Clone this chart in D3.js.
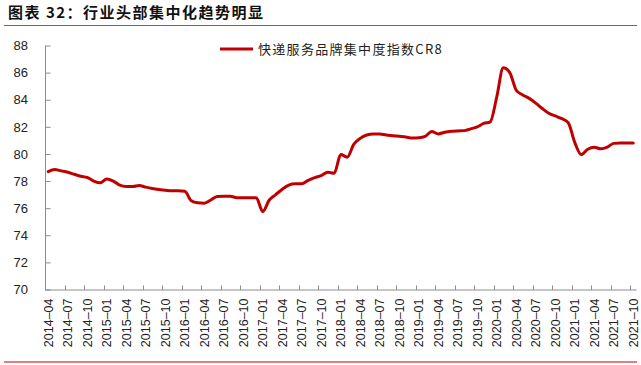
<!DOCTYPE html>
<html>
<head>
<meta charset="utf-8">
<script src="https://cdn.jsdelivr.net/npm/d3@7"></script>
<style>
  body { margin: 0; background: #fff; }
  svg { display: block; }
</style>
</head>
<body>
<div id="chart"></div>
<script>
// monthly CR8 index, 2014-04 .. 2021-10
var months = [];
(function () {
    var y = 2014, m = 4;
    for (var i = 0; i < 91; i++) {
        months.push(y + "-" + (m < 10 ? "0" + m : m));
        m++;
        if (m > 12) { m = 1; y++; }
    }
})();

var cr8 = [78.7, 78.85, 78.75, 78.65, 78.5, 78.35, 78.26, 78.0, 77.87, 78.15,
           78.0, 77.7, 77.6, 77.6, 77.67, 77.55, 77.45, 77.38, 77.33, 77.28,
           77.28, 77.25, 76.55, 76.4, 76.37, 76.6, 76.86, 76.88, 76.88, 76.77,
           76.76, 76.76, 76.76, 75.75, 76.6, 77.0, 77.4, 77.7, 77.8, 77.8,
           78.05, 78.25, 78.4, 78.65, 78.58, 79.95, 79.76, 80.7, 81.15, 81.4,
           81.48, 81.48, 81.4, 81.35, 81.3, 81.25, 81.18, 81.2, 81.3, 81.65,
           81.48, 81.6, 81.67, 81.7, 81.72, 81.85, 82.0, 82.25, 82.37, 84.2,
           86.35, 86.0, 84.7, 84.35, 84.1, 83.75, 83.35, 83.0, 82.8, 82.6,
           82.3, 80.85, 79.95, 80.35, 80.5, 80.38, 80.5, 80.78, 80.8, 80.8,
           80.8];

var yTicks = [70, 72, 74, 76, 78, 80, 82, 84, 86, 88];
var xTickLabels = months.filter(function (d, i) { return i % 3 === 0; });

var title = "图表 32：行业头部集中化趋势明显";
var seriesName = "快递服务品牌集中度指数CR8";

var width = 641, height = 365;
var plot = {left: 45, right: 636.5, top: 45.5, bottom: 289.5};

var svg = d3.select("#chart").append("svg")
    .attr("width", width)
    .attr("height", height);

// header
svg.append("text")
    .attr("x", 8)
    .attr("y", 18)
    .style("font-family", "'Noto Sans CJK SC', sans-serif")
    .style("font-size", "15px")
    .style("font-weight", "bold")
    .style("letter-spacing", "1.5px")
    .style("fill", "#111")
    .text(title);

svg.append("line")
    .attr("x1", 4).attr("x2", 637)
    .attr("y1", 25.5).attr("y2", 25.5)
    .style("stroke", "#d04040")
    .style("stroke-width", 1.2);

svg.append("line")
    .attr("x1", 4).attr("x2", 637)
    .attr("y1", 362).attr("y2", 362)
    .style("stroke", "#c00000")
    .style("stroke-width", 1.2);

var x = d3.scaleBand().domain(months).range([plot.left, plot.right]).padding(0);
var y = d3.scaleLinear().domain([70, 88]).range([plot.bottom, plot.top]);

// y axis
var yAxis = d3.axisRight(y).tickValues(yTicks).tickSize(5).tickFormat(d3.format("d"));
var gy = svg.append("g")
    .attr("transform", "translate(" + plot.left + ",0)")
    .call(yAxis);
gy.select(".domain").attr("d", "M0.5," + plot.top + "V" + plot.bottom).style("stroke", "#8c8c8c");
gy.selectAll(".tick line").style("stroke", "#8c8c8c").attr("transform", "translate(0.5,0)");
gy.selectAll(".tick text")
    .attr("x", -17)
    .attr("text-anchor", "end")
    .style("font-family", "'Liberation Sans', Arial, sans-serif")
    .style("font-size", "13px")
    .style("fill", "#222");

// x axis
var gx = svg.append("g").attr("transform", "translate(0," + plot.bottom + ")");
gx.append("line")
    .attr("x1", plot.left).attr("x2", plot.right)
    .attr("y1", 0.5).attr("y2", 0.5)
    .style("stroke", "#8c8c8c");
gx.selectAll(".xtick")
    .data(xTickLabels)
    .enter().append("line")
    .attr("class", "xtick")
    .attr("x1", function (d) { return Math.round(x(d)) + 0.5; })
    .attr("x2", function (d) { return Math.round(x(d)) + 0.5; })
    .attr("y1", 0.5).attr("y2", -4)
    .style("stroke", "#8c8c8c");
gx.selectAll(".xlabel")
    .data(xTickLabels)
    .enter().append("text")
    .attr("class", "xlabel")
    .attr("transform", function (d) {
        return "translate(" + (x(d) + x.bandwidth() / 2) + ",9) rotate(-90)";
    })
    .attr("dy", "0.35em")
    .attr("text-anchor", "end")
    .style("font-family", "'Liberation Sans', Arial, sans-serif")
    .style("font-size", "12.5px")
    .style("fill", "#222")
    .text(function (d) { return d.replace("-", "–"); });

// line
var line = d3.line()
    .x(function (d, i) { return x(months[i]) + x.bandwidth() / 2; })
    .y(function (d) { return y(d); })
    .curve(d3.curveMonotoneX);

svg.append("path")
    .datum(cr8)
    .attr("d", line)
    .style("fill", "none")
    .style("stroke", "#c00000")
    .style("stroke-width", 3)
    .style("stroke-linejoin", "round")
    .style("stroke-linecap", "round");

// legend
svg.append("line")
    .attr("x1", 220).attr("x2", 253)
    .attr("y1", 49).attr("y2", 49)
    .style("stroke", "#c00000")
    .style("stroke-width", 3);
svg.append("text")
    .attr("x", 258)
    .attr("y", 54)
    .style("font-family", "'Noto Sans CJK SC', sans-serif")
    .style("font-size", "13px")
    .style("letter-spacing", "1.3px")
    .style("fill", "#222")
    .text(seriesName);
</script>
</body>
</html>
